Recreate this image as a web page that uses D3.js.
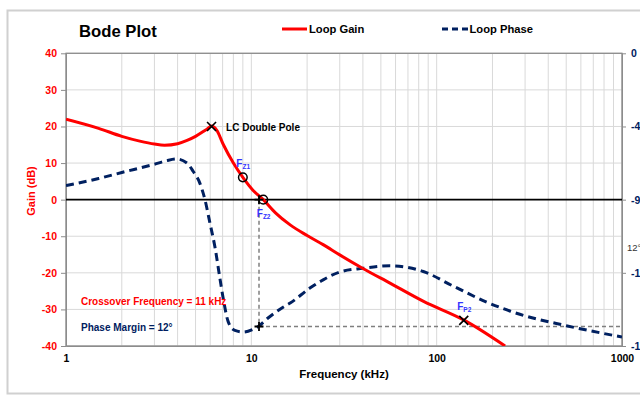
<!DOCTYPE html>
<html><head><meta charset="utf-8">
<script src="https://cdn.jsdelivr.net/npm/d3@7"></script>
<style>
body{margin:0;background:#fff}
svg{display:block;font-family:"Liberation Sans",Arial,sans-serif;overflow:hidden}
</style>
</head><body>
<svg id="c" width="640" height="398"></svg>
<script>
// ---- data ----
const gainFreq = [1, 1.5, 2, 2.5, 3, 3.4, 4, 4.5, 5, 5.5, 5.8, 6.1, 6.5, 7.07, 8, 9, 10.2, 11.6, 13.5, 16.2, 20, 24.4, 30, 40, 56, 85, 139, 234];
const gainDb   = [22, 19.5, 17.3, 16, 15.2, 14.9, 15.3, 16.2, 17.3, 18.6, 19.4, 20.1, 19.0, 15.0, 10.0, 6.1, 2.6, 0, -3.6, -6.9, -9.8, -12.3, -15.1, -18.8, -22.8, -27.8, -32.8, -40];
const phaseFreq = [1, 1.5, 2, 3, 3.5, 3.95, 4.5, 4.86, 5.28, 5.62, 5.98, 6.36, 6.78, 7.07, 7.5, 8.15, 9.05, 10.25, 10.9, 12.3, 14.9, 16.2, 20.7, 24.4, 30, 40, 56, 84.7, 122, 186, 281, 500, 1000];
const phaseDeg  = [-81.3, -77, -73.3, -68.2, -66, -65, -67.5, -72.7, -80, -90, -104.4, -119, -139, -151.5, -165, -170.4, -171.4, -169.6, -168, -162.8, -156, -153.6, -144.4, -139.3, -134.5, -132.2, -130.7, -134.2, -143, -153, -160.5, -167.5, -174.5];
const gainTicks  = [40, 30, 20, 10, 0, -10, -20, -30, -40];
const phaseTicks = [0, -45, -90, -135, -180];
const freqTicks  = [1, 10, 100, 1000];
const crossoverFreq = 11;
const phaseAtCrossover = -168;
const lcPole = {f: 6.1, g: 20};
const fz1 = {f: 9, g: 6.1};
const fz2 = {f: 11.6, g: 0};
const fp2 = {f: 140, g: -33};

// ---- scales ----
const L = 66, R = 622, T = 53.3, B = 346;
const x  = d3.scaleLog().domain([1, 1000]).range([L, R]);
const yG = d3.scaleLinear().domain([-40, 40]).range([B, T]);
const yP = d3.scaleLinear().domain([-180, 0]).range([B, T]);

const svg = d3.select("#c");
const RED = "#ff0000", NAVY = "#002060", BLUE = "#3333ff";

// outer frame
svg.append("rect").attr("x", 7.5).attr("y", 10.5).attr("width", 660).attr("height", 383)
  .attr("fill", "#fff").attr("stroke", "#d0d0d0").attr("stroke-width", 2);

// gridlines
const grid = svg.append("g");
grid.selectAll(".vg").data(x.ticks()).join("line")
  .attr("x1", d => x(d)).attr("x2", d => x(d)).attr("y1", T).attr("y2", B)
  .attr("stroke", "#d9d9d9").attr("stroke-width", 1);
grid.selectAll(".hg").data(gainTicks).join("line")
  .attr("x1", L).attr("x2", R).attr("y1", d => yG(d)).attr("y2", d => yG(d))
  .attr("stroke", "#d9d9d9").attr("stroke-width", 1);

// plot border
svg.append("rect").attr("x", L).attr("y", T).attr("width", R - L).attr("height", B - T)
  .attr("fill", "none").attr("stroke", "#8c8c8c").attr("stroke-width", 1.3);

// left axis
const ga = svg.append("g").attr("transform", `translate(${L},0)`)
  .call(d3.axisLeft(yG).tickValues(gainTicks).tickSize(5).tickSizeOuter(0).tickPadding(4).tickFormat(d => String(d)));
ga.select(".domain").attr("stroke", "#8c8c8c");
ga.selectAll(".tick line").attr("stroke", "#8c8c8c");
ga.selectAll("text").attr("fill", RED).attr("font-weight", "bold").attr("font-size", 10.5)
  .attr("font-family", "Liberation Sans, Arial, sans-serif");

// right axis (labels run off the page edge, as in the reference)
const pa = svg.append("g").attr("transform", `translate(${R},0)`)
  .call(d3.axisRight(yP).tickValues(phaseTicks).tickSize(4).tickSizeOuter(0).tickPadding(5).tickFormat(d => String(d)));
pa.select(".domain").attr("stroke", "#8c8c8c");
pa.selectAll(".tick line").attr("stroke", "#8c8c8c");
pa.selectAll("text").attr("fill", NAVY).attr("font-weight", "bold").attr("font-size", 10.5)
  .attr("font-family", "Liberation Sans, Arial, sans-serif");

// bottom axis
const fa = svg.append("g").attr("transform", `translate(0,${B})`)
  .call(d3.axisBottom(x).tickValues(freqTicks).tickSize(0).tickSizeOuter(0).tickPadding(9).tickFormat(d => String(d)));
fa.select(".domain").attr("stroke", "#8c8c8c");
fa.selectAll("text").attr("fill", "#000").attr("font-weight", "bold").attr("font-size", 10.5)
  .attr("font-family", "Liberation Sans, Arial, sans-serif");

// zero line
svg.append("line").attr("x1", L).attr("x2", R).attr("y1", yG(0)).attr("y2", yG(0))
  .attr("stroke", "#000").attr("stroke-width", 1.6);

// axis titles
svg.append("text").attr("x", 344).attr("y", 378).attr("text-anchor", "middle")
  .attr("font-weight", "bold").attr("font-size", 11.5).text("Frequency (kHz)");
svg.append("text").attr("transform", "translate(34.5,191) rotate(-90)").attr("text-anchor", "middle")
  .attr("font-weight", "bold").attr("font-size", 11).attr("fill", RED).text("Gain (dB)");

// title & legend
svg.append("text").attr("x", 79).attr("y", 37).attr("font-weight", "bold").attr("font-size", 16.7).text("Bode Plot");
svg.append("line").attr("x1", 282).attr("x2", 307).attr("y1", 29).attr("y2", 29).attr("stroke", RED).attr("stroke-width", 3);
svg.append("text").attr("x", 309).attr("y", 32.5).attr("font-weight", "bold").attr("font-size", 11.2).text("Loop Gain");
svg.append("line").attr("x1", 442).attr("x2", 468).attr("y1", 29).attr("y2", 29).attr("stroke", NAVY).attr("stroke-width", 3).attr("stroke-dasharray", "6,4");
svg.append("text").attr("x", 469.5).attr("y", 32.5).attr("font-weight", "bold").attr("font-size", 11.2).text("Loop Phase");

// clip
svg.append("clipPath").attr("id", "pc").append("rect").attr("x", L).attr("y", T).attr("width", R - L).attr("height", B - T);

// gray dashed guides
svg.append("line").attr("x1", x(crossoverFreq)).attr("x2", x(crossoverFreq)).attr("y1", yG(0)).attr("y2", yP(phaseAtCrossover))
  .attr("stroke", "#7f7f7f").attr("stroke-width", 1.5).attr("stroke-dasharray", "4,3");
svg.append("line").attr("x1", x(crossoverFreq)).attr("x2", R).attr("y1", yP(phaseAtCrossover)).attr("y2", yP(phaseAtCrossover))
  .attr("stroke", "#7f7f7f").attr("stroke-width", 1.5).attr("stroke-dasharray", "4,3");

// curves
const gainLine = d3.line().x(d => x(d[0])).y(d => yG(d[1])).curve(d3.curveMonotoneX);
const phaseLine = d3.line().x(d => x(d[0])).y(d => yP(d[1])).curve(d3.curveMonotoneX);
svg.append("path").attr("clip-path", "url(#pc)")
  .attr("d", phaseLine(d3.zip(phaseFreq, phaseDeg)))
  .attr("fill", "none").attr("stroke", NAVY).attr("stroke-width", 3).attr("stroke-dasharray", "8,5");
svg.append("path").attr("clip-path", "url(#pc)")
  .attr("d", gainLine(d3.zip(gainFreq, gainDb)))
  .attr("fill", "none").attr("stroke", RED).attr("stroke-width", 3);

// markers
function xMark(cx, cy, s) {
  svg.append("path").attr("d", `M${cx - s},${cy - s}L${cx + s},${cy + s}M${cx - s},${cy + s}L${cx + s},${cy - s}`)
    .attr("stroke", "#000").attr("stroke-width", 1.6).attr("fill", "none");
}
function plusMark(cx, cy, s) {
  svg.append("path").attr("d", `M${cx - s},${cy}L${cx + s},${cy}M${cx},${cy - s}L${cx},${cy + s}`)
    .attr("stroke", "#000").attr("stroke-width", 1.8).attr("fill", "none");
}
function circMark(cx, cy) {
  svg.append("circle").attr("cx", cx).attr("cy", cy).attr("r", 4.3)
    .attr("stroke", "#000").attr("stroke-width", 1.5).attr("fill", "none");
}
xMark(x(lcPole.f), yG(lcPole.g), 4.5);
circMark(x(fz1.f), yG(fz1.g));
plusMark(x(crossoverFreq), yG(0), 4.5);
circMark(x(fz2.f), yG(fz2.g));
plusMark(x(crossoverFreq), yP(phaseAtCrossover), 4.5);
xMark(x(fp2.f), yG(fp2.g), 4.5);

// labels
function fLabel(px, py, sub) {
  const t = svg.append("text").attr("x", px).attr("y", py).attr("fill", BLUE).attr("font-weight", "bold").attr("font-size", 10);
  t.append("tspan").text("F");
  t.append("tspan").attr("font-size", 6.5).attr("dy", 2).text(sub);
}
fLabel(x(fz1.f) - 6.5, yG(fz1.g) - 10.5, "Z1");
fLabel(x(fz2.f) - 6.5, yG(fz2.g) + 17.5, "Z2");
fLabel(x(fp2.f) - 6.5, yG(fp2.g) - 10, "P2");
svg.append("text").attr("x", x(lcPole.f) + 14.5).attr("y", yG(lcPole.g) + 4.5)
  .attr("font-weight", "bold").attr("font-size", 10).text("LC Double Pole");
svg.append("text").attr("x", 81).attr("y", 305).attr("fill", RED)
  .attr("font-weight", "bold").attr("font-size", 10).text("Crossover Frequency = 11 kHz");
svg.append("text").attr("x", 81).attr("y", 331).attr("fill", NAVY)
  .attr("font-weight", "bold").attr("font-size", 10).text("Phase Margin = 12°");
svg.append("text").attr("x", 627).attr("y", 250.5).attr("fill", "#333")
  .attr("font-size", 9.5).text("12°");
</script>
</body></html>
